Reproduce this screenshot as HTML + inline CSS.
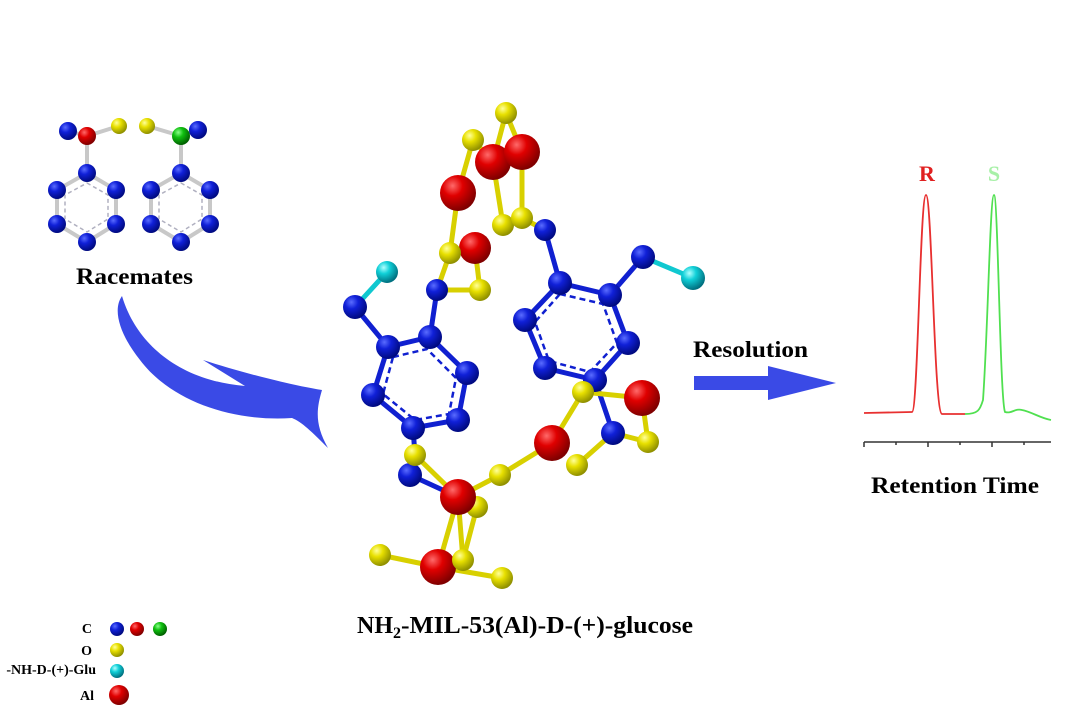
<!DOCTYPE html><html><head><style>body{margin:0;background:#fff}svg{display:block}text{font-family:"Liberation Serif",serif;font-weight:bold}</style></head><body>
<svg width="1080" height="720" viewBox="0 0 1080 720">
<defs>
<radialGradient id="b" cx="35%" cy="30%" r="70%"><stop offset="0" stop-color="#5a6cff"/><stop offset=".4" stop-color="#1020d8"/><stop offset="1" stop-color="#000a80"/></radialGradient>
<radialGradient id="r" cx="35%" cy="30%" r="70%"><stop offset="0" stop-color="#ff6a6a"/><stop offset=".4" stop-color="#e00000"/><stop offset="1" stop-color="#800000"/></radialGradient>
<radialGradient id="y" cx="35%" cy="30%" r="70%"><stop offset="0" stop-color="#ffff9a"/><stop offset=".4" stop-color="#e8e000"/><stop offset="1" stop-color="#909000"/></radialGradient>
<radialGradient id="g" cx="35%" cy="30%" r="70%"><stop offset="0" stop-color="#8aff8a"/><stop offset=".4" stop-color="#10c010"/><stop offset="1" stop-color="#006000"/></radialGradient>
<radialGradient id="c" cx="35%" cy="30%" r="70%"><stop offset="0" stop-color="#b0ffff"/><stop offset=".4" stop-color="#10d0d8"/><stop offset="1" stop-color="#007080"/></radialGradient>
</defs>
<g stroke="#c8c8c8" stroke-width="4" fill="none">
<line x1="68" y1="131" x2="87" y2="136"/><line x1="87" y1="136" x2="119" y2="126"/><line x1="87" y1="136" x2="87" y2="173"/>
<polygon points="87,173 116,190 116,224 87,242 57,224 57,190"/>
<line x1="147" y1="126" x2="181" y2="136"/><line x1="181" y1="136" x2="197" y2="130"/><line x1="181" y1="136" x2="181" y2="173"/>
<polygon points="181,173 210,190 210,224 181,242 151,224 151,190"/>
</g>
<g stroke="#b0b0c0" stroke-width="1.5" stroke-dasharray="4 3" fill="none">
<polygon points="87,183 108,195 108,219 87,232 65,219 65,195"/><polygon points="181,183 202,195 202,219 181,232 159,219 159,195"/>
</g>
<g>
<circle cx="68" cy="131" r="9" fill="url(#b)"/><circle cx="87" cy="136" r="9" fill="url(#r)"/><circle cx="119" cy="126" r="8" fill="url(#y)"/>
<circle cx="147" cy="126" r="8" fill="url(#y)"/><circle cx="181" cy="136" r="9" fill="url(#g)"/><circle cx="198" cy="130" r="9" fill="url(#b)"/>
<circle cx="87" cy="173" r="9" fill="url(#b)"/><circle cx="116" cy="190" r="9" fill="url(#b)"/><circle cx="116" cy="224" r="9" fill="url(#b)"/><circle cx="87" cy="242" r="9" fill="url(#b)"/><circle cx="57" cy="224" r="9" fill="url(#b)"/><circle cx="57" cy="190" r="9" fill="url(#b)"/>
<circle cx="181" cy="173" r="9" fill="url(#b)"/><circle cx="210" cy="190" r="9" fill="url(#b)"/><circle cx="210" cy="224" r="9" fill="url(#b)"/><circle cx="181" cy="242" r="9" fill="url(#b)"/><circle cx="151" cy="224" r="9" fill="url(#b)"/><circle cx="151" cy="190" r="9" fill="url(#b)"/>
</g>
<text x="76" y="284" font-size="23" textLength="117" lengthAdjust="spacingAndGlyphs">Racemates</text>
<path d="M122,296 C135,340 175,380 245,386 L203,360 C240,372 290,385 322,390 C316,410 315,425 328,448 C312,432 302,422 292,418 C230,422 170,400 140,360 C120,335 112,310 122,296 Z" fill="#3a4ae6"/>
<g stroke-width="5" stroke-linecap="round">
<g stroke="#1020d0">
<polygon fill="none" points="388,347 430,337 467,373 458,420 413,428 373,395"/>
<polygon fill="none" points="560,283 610,295 628,343 595,380 545,368 525,320"/>
<line x1="388" y1="347" x2="355" y2="307"/><line x1="430" y1="337" x2="437" y2="290"/>
<line x1="560" y1="283" x2="545" y2="230"/><line x1="610" y1="295" x2="643" y2="257"/>
<line x1="413" y1="428" x2="415" y2="455"/><line x1="595" y1="380" x2="613" y2="433"/>
<line x1="410" y1="475" x2="458" y2="497"/>
</g>
<g stroke="#d8d000">
<line x1="437" y1="290" x2="480" y2="290"/><line x1="437" y1="290" x2="450" y2="253"/><line x1="450" y1="253" x2="458" y2="193"/>
<line x1="475" y1="248" x2="480" y2="290"/><line x1="458" y1="193" x2="473" y2="140"/><line x1="473" y1="140" x2="493" y2="162"/>
<line x1="506" y1="113" x2="522" y2="152"/><line x1="493" y1="162" x2="506" y2="113"/><line x1="493" y1="162" x2="503" y2="225"/>
<line x1="522" y1="152" x2="522" y2="218"/><line x1="522" y1="218" x2="545" y2="230"/>
<line x1="583" y1="392" x2="642" y2="398"/><line x1="583" y1="392" x2="552" y2="443"/><line x1="642" y1="398" x2="648" y2="442"/>
<line x1="613" y1="433" x2="648" y2="442"/><line x1="613" y1="433" x2="577" y2="465"/>
<line x1="552" y1="443" x2="500" y2="475"/><line x1="500" y1="475" x2="458" y2="497"/>
<line x1="415" y1="455" x2="458" y2="497"/><line x1="458" y1="497" x2="438" y2="567"/><line x1="458" y1="497" x2="463" y2="560"/><line x1="477" y1="507" x2="463" y2="560"/>
<line x1="380" y1="555" x2="438" y2="567"/><line x1="438" y1="567" x2="502" y2="578"/>
</g>
<g stroke="#10c8d0"><line x1="355" y1="307" x2="387" y2="272"/><line x1="643" y1="257" x2="693" y2="278"/></g>
</g>
<g stroke="#1020d0" stroke-width="2.5" stroke-dasharray="6 4" fill="none">
<polygon points="393,357 427,349 456,378 449,414 415,420 383,394"/>
<polygon points="560,294 603,304 617,343 590,372 549,361 535,322"/>
</g>
<g>
<circle cx="506" cy="113" r="11" fill="url(#y)"/><circle cx="473" cy="140" r="11" fill="url(#y)"/>
<circle cx="493" cy="162" r="18" fill="url(#r)"/><circle cx="522" cy="152" r="18" fill="url(#r)"/>
<circle cx="458" cy="193" r="18" fill="url(#r)"/>
<circle cx="503" cy="225" r="11" fill="url(#y)"/><circle cx="522" cy="218" r="11" fill="url(#y)"/><circle cx="545" cy="230" r="11" fill="url(#b)"/>
<circle cx="475" cy="248" r="16" fill="url(#r)"/><circle cx="450" cy="253" r="11" fill="url(#y)"/>
<circle cx="437" cy="290" r="11" fill="url(#b)"/><circle cx="480" cy="290" r="11" fill="url(#y)"/>
<circle cx="387" cy="272" r="11" fill="url(#c)"/><circle cx="355" cy="307" r="12" fill="url(#b)"/>
<circle cx="388" cy="347" r="12" fill="url(#b)"/><circle cx="430" cy="337" r="12" fill="url(#b)"/><circle cx="467" cy="373" r="12" fill="url(#b)"/><circle cx="458" cy="420" r="12" fill="url(#b)"/><circle cx="413" cy="428" r="12" fill="url(#b)"/><circle cx="373" cy="395" r="12" fill="url(#b)"/>
<circle cx="643" cy="257" r="12" fill="url(#b)"/><circle cx="693" cy="278" r="12" fill="url(#c)"/>
<circle cx="560" cy="283" r="12" fill="url(#b)"/><circle cx="610" cy="295" r="12" fill="url(#b)"/><circle cx="628" cy="343" r="12" fill="url(#b)"/><circle cx="595" cy="380" r="12" fill="url(#b)"/><circle cx="545" cy="368" r="12" fill="url(#b)"/><circle cx="525" cy="320" r="12" fill="url(#b)"/>
<circle cx="642" cy="398" r="18" fill="url(#r)"/><circle cx="583" cy="392" r="11" fill="url(#y)"/>
<circle cx="613" cy="433" r="12" fill="url(#b)"/><circle cx="648" cy="442" r="11" fill="url(#y)"/><circle cx="577" cy="465" r="11" fill="url(#y)"/>
<circle cx="552" cy="443" r="18" fill="url(#r)"/><circle cx="500" cy="475" r="11" fill="url(#y)"/>
<circle cx="410" cy="475" r="12" fill="url(#b)"/><circle cx="415" cy="455" r="11" fill="url(#y)"/>
<circle cx="477" cy="507" r="11" fill="url(#y)"/><circle cx="458" cy="497" r="18" fill="url(#r)"/>
<circle cx="380" cy="555" r="11" fill="url(#y)"/><circle cx="438" cy="567" r="18" fill="url(#r)"/><circle cx="463" cy="560" r="11" fill="url(#y)"/><circle cx="502" cy="578" r="11" fill="url(#y)"/>
</g>
<text x="357" y="633" font-size="24">NH<tspan font-size="16" dy="5">2</tspan><tspan dy="-5" textLength="292" lengthAdjust="spacingAndGlyphs">-MIL-53(Al)-D-(+)-glucose</tspan></text>
<text x="693" y="357" font-size="23" textLength="115" lengthAdjust="spacingAndGlyphs">Resolution</text>
<polygon points="694,376 768,376 768,366 836,383 768,400 768,390 694,390" fill="#3a4ae6"/>
<path d="M864,413 L912,412 C918,412 920,195 926,195 C932,195 934,413 942,414 L965,414" fill="none" stroke="#e83030" stroke-width="1.8"/>
<path d="M965,414 C978,414 980,410 983,400 C988,330 990,195 994,195 C998,195 1000,400 1005,412 C1012,414 1015,408 1022,410 C1032,412 1040,418 1051,420" fill="none" stroke="#50e050" stroke-width="1.8"/>
<g stroke="#333" stroke-width="1.5"><line x1="864" y1="442" x2="1051" y2="442"/>
<line x1="864" y1="442" x2="864" y2="447"/><line x1="896" y1="442" x2="896" y2="445"/><line x1="928" y1="442" x2="928" y2="447"/><line x1="960" y1="442" x2="960" y2="445"/><line x1="992" y1="442" x2="992" y2="447"/><line x1="1024" y1="442" x2="1024" y2="445"/></g>
<text x="927" y="181" font-size="22" fill="#e02020" text-anchor="middle">R</text>
<text x="994" y="181" font-size="22" fill="#a8f0a8" text-anchor="middle">S</text>
<text x="871" y="493" font-size="23" textLength="168" lengthAdjust="spacingAndGlyphs">Retention Time</text>
<g font-size="14" text-anchor="end">
<text x="92" y="633">C</text><text x="92" y="655">O</text><text x="96" y="674">-NH-D-(+)-Glu</text><text x="94" y="700">Al</text></g>
<circle cx="117" cy="629" r="7" fill="url(#b)"/><circle cx="137" cy="629" r="7" fill="url(#r)"/><circle cx="160" cy="629" r="7" fill="url(#g)"/>
<circle cx="117" cy="650" r="7" fill="url(#y)"/><circle cx="117" cy="671" r="7" fill="url(#c)"/><circle cx="119" cy="695" r="10" fill="url(#r)"/>
</svg></body></html>
